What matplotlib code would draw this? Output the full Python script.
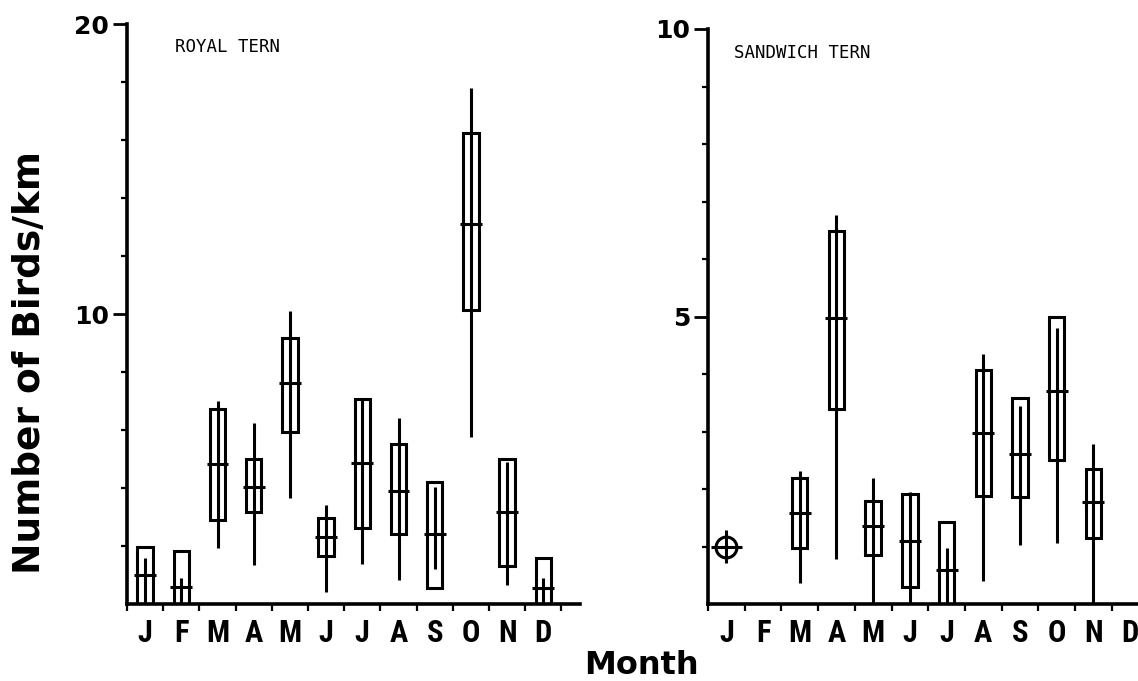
import numpy as np
import matplotlib
matplotlib.use("Agg")
import matplotlib.pyplot as plt
from matplotlib import font_manager

months = ["J", "F", "M", "A", "M", "J", "J", "A", "S", "O", "N", "D"]

# Royal tern: mean, box limits and range line (birds/km)
royal_mean = [0.99, 0.57, 4.82, 4.05, 7.61, 2.30, 4.86, 3.91, 2.40, 13.1, 3.16, 0.54]
royal_box_lo = [0, 0, 2.91, 3.17, 5.92, 1.66, 2.62, 2.43, 0.54, 10.14, 1.32, 0]
royal_box_hi = [1.95, 1.84, 6.72, 5.0, 9.18, 2.95, 7.06, 5.52, 4.22, 16.25, 5.01, 1.57]
royal_line_lo = [0, 0, 1.92, 1.34, 3.64, 0.40, 1.38, 0.83, 1.20, 5.77, 0.66, 0]
royal_line_hi = [1.57, 0.89, 7.0, 6.25, 10.1, 3.41, 7.06, 6.43, 4.05, 17.8, 4.9, 0.91]

# Sandwich tern (nan = no data; January is a single observation)
nan = np.nan
sand_mean = [1.0, nan, 1.59, 4.97, 1.35, 1.10, 0.60, 2.98, 2.61, 3.70, 1.77, nan]
sand_box_lo = [nan, nan, 0.98, 3.39, 0.85, 0.30, 0, 1.87, 1.86, 2.50, 1.14, nan]
sand_box_hi = [nan, nan, 2.19, 6.48, 1.80, 1.91, 1.42, 4.07, 3.59, 5.0, 2.35, nan]
sand_line_lo = [0.72, nan, 0.36, 0.79, 0, 0, 0, 0.40, 1.02, 1.06, 0, nan]
sand_line_hi = [1.29, nan, 2.32, 6.77, 2.20, 1.95, 0.98, 4.35, 3.45, 4.80, 2.78, nan]
sand_single = [True] + [False] * 11

LW = 2.2

# pick a narrow bold face for the month letters if one is installed
names = {f.name for f in font_manager.fontManager.ttflist}
narrow = None
for cand in ("Liberation Sans Narrow", "Roboto Condensed", "Open Sans Condensed",
             "DejaVu Sans Condensed"):
    if cand in names:
        narrow = cand
        break
print("narrow font:", narrow)
print(sorted(names))
month_font = dict(fontfamily=narrow or "DejaVu Sans", fontweight="bold",
                  fontstretch="condensed", fontsize=22)


def draw_panel(ax, mean, box_lo, box_hi, line_lo, line_hi, ymax, minor_step,
               xmax, title, single=None):
    x = np.arange(12) + 0.5
    mean = np.array(mean, dtype=float)
    box_lo = np.array(box_lo, dtype=float)
    box_hi = np.array(box_hi, dtype=float)
    line_lo = np.array(line_lo, dtype=float)
    line_hi = np.array(line_hi, dtype=float)

    has_box = ~np.isnan(box_lo)
    ax.bar(x[has_box], box_hi[has_box] - box_lo[has_box], bottom=box_lo[has_box],
           width=0.42, fill=False, edgecolor="black", linewidth=LW, zorder=3)
    has_line = ~np.isnan(line_lo)
    ax.vlines(x[has_line], line_lo[has_line], line_hi[has_line],
              color="black", linewidth=LW, zorder=3)
    has_mean = ~np.isnan(mean)
    ax.hlines(mean[has_mean], x[has_mean] - 0.3, x[has_mean] + 0.3,
              color="black", linewidth=LW, zorder=3)
    if single is not None:
        s = np.array(single)
        ax.plot(x[s], mean[s], marker="o", markersize=15, markerfacecolor="none",
                markeredgecolor="black", markeredgewidth=LW, linestyle="none", zorder=4)
        ax.hlines(mean[s], x[s] - 0.42, x[s] + 0.42, color="black",
                  linewidth=LW, zorder=4)

    ax.set_xlim(0, xmax)
    ax.set_ylim(0, ymax)
    for side in ("top", "right"):
        ax.spines[side].set_visible(False)
    for side in ("left", "bottom"):
        ax.spines[side].set_linewidth(2.6)

    # month boundaries as ticks, letters centred between them
    ax.set_xticks(np.arange(0, int(xmax) + 1))
    ax.set_xticklabels([])
    ax.set_xticks(x, minor=True)
    ax.set_xticklabels(months, minor=True, **month_font)
    ax.tick_params(axis="x", which="major", direction="out", length=5, width=1.6)
    ax.tick_params(axis="x", which="minor", length=0, pad=10)

    ax.set_yticks([ymax / 2, ymax])
    ax.set_yticklabels([f"{ymax // 2:g}", f"{ymax:g}"], fontweight="bold", fontsize=18)
    ax.set_yticks(np.arange(minor_step, ymax, minor_step), minor=True)
    ax.tick_params(axis="y", which="major", direction="out", length=10, width=2, pad=3)
    ax.tick_params(axis="y", which="minor", direction="out", length=4.5, width=1.6)

    return ax.text(0.1, 0.96, title, transform=ax.transAxes,
                   fontfamily="DejaVu Sans Mono", fontsize=12.5, va="center", ha="left")


fig = plt.figure(figsize=(11.38, 6.81), dpi=100)
ax1 = fig.add_axes([127 / 1138, 77 / 681, 453 / 1138, 580 / 681])
ax2 = fig.add_axes([708 / 1138, 77 / 681, 430 / 1138, 575 / 681])

t1 = draw_panel(ax1, royal_mean, royal_box_lo, royal_box_hi, royal_line_lo, royal_line_hi,
                20, 2, 453 / 36.2, "ROYAL TERN")
t2 = draw_panel(ax2, sand_mean, sand_box_lo, sand_box_hi, sand_line_lo, sand_line_hi,
                10, 1, 430 / 36.7, "SANDWICH TERN", single=sand_single)
t1.set_position((0.105, 0.961))
t2.set_position((0.06, 0.958))

fig.text(30 / 1138, 1 - 362 / 681, "Number of Birds/km", rotation=90,
         fontweight="bold", fontsize=27, ha="center", va="center")
fig.text(641 / 1138, 1 - 666 / 681, "Month", fontweight="bold", fontsize=23,
         ha="center", va="center")

fig.savefig("out.png", dpi=100)
